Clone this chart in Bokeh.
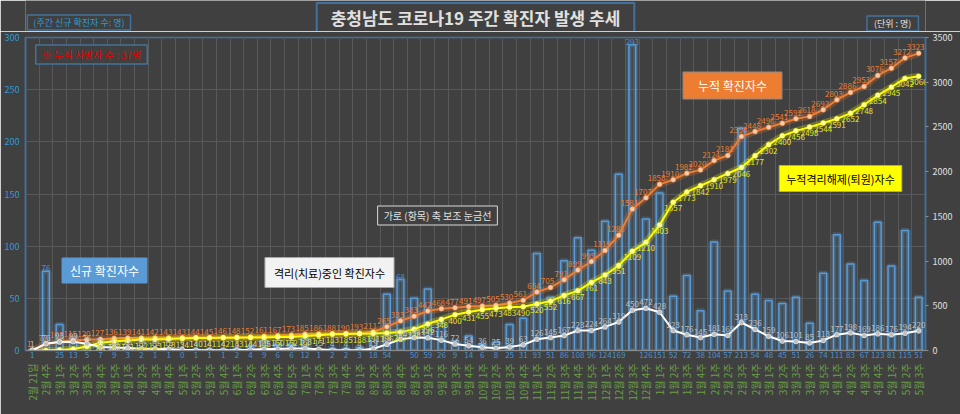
import math
from bokeh.plotting import figure
from bokeh.layouts import column
from bokeh.models import (Range1d, LinearAxis, FixedTicker, ColumnDataSource,
                          LabelSet, Label)
from bokeh.embed import file_html
from bokeh.resources import INLINE
from bokeh.core.properties import value

FONT = "Noto Sans CJK KR"

week_labels = [
    "2월 21일", "2월 4주",
    "3월 1주", "3월 2주", "3월 3주", "3월 4주", "3월 5주",
    "4월 1주", "4월 2주", "4월 3주", "4월 4주",
    "5월 1주", "5월 2주", "5월 3주", "5월 4주",
    "6월 1주", "6월 2주", "6월 3주", "6월 4주", "6월 5주",
    "7월 1주", "7월 2주", "7월 3주", "7월 4주",
    "8월 1주", "8월 2주", "8월 3주", "8월 4주", "8월 5주",
    "9월 1주", "9월 2주", "9월 3주", "9월 4주",
    "10월 1주", "10월 2주", "10월 3주", "10월 4주",
    "11월 1주", "11월 2주", "11월 3주", "11월 4주", "11월 5주",
    "12월 1주", "12월 2주", "12월 3주", "12월 4주",
    "1월 1주", "1월 2주", "1월 3주", "1월 4주",
    "2월 1주", "2월 2주", "2월 3주", "2월 4주",
    "3월 1주", "3월 2주", "3월 3주", "3월 4주", "3월 5주",
    "4월 1주", "4월 2주", "4월 3주", "4월 4주",
    "5월 1주", "5월 2주", "5월 3주",
]

weekly_new = [1, 76, 25, 13, 5, 7, 9, 3, 2, 1,
              1, 0, 1, 1, 1, 2, 4, 9, 6, 6,
              12, 1, 2, 2, 3, 18, 54, 68, 50, 59,
              26, 9, 14, 6, 8, 25, 31, 93, 51, 86,
              108, 96, 124, 169, 293, 126, 151, 52, 72, 38,
              104, 57, 213, 54, 48, 45, 51, 26, 74, 111,
              83, 67, 123, 81, 115, 51]

cumulative = [1, 77, 102, 115, 120, 127, 136, 139, 141, 142,
              143, 143, 144, 145, 146, 148, 152, 161, 167, 173,
              185, 186, 188, 190, 193, 211, 265, 333, 383, 442,
              468, 477, 491, 497, 505, 530, 561, 654, 705, 791,
              899, 995, 1119, 1288, 1581, 1707, 1858, 1910, 1982, 2020,
              2124, 2181, 2394, 2448, 2496, 2541, 2592, 2618, 2692, 2803,
              2886, 2953, 3076, 3157, 3272, 3323]

released = [0, 1, 7, 16, 44, 88, 103, 111, 122, 123,
            128, 134, 140, 141, 142, 143, 144, 145, 150, 152,
            163, 171, 183, 185, 188, 191, 196, 207, 238, 296,
            348, 400, 431, 455, 473, 483, 490, 520, 552, 616,
            667, 761, 843, 951, 1109, 1210, 1403, 1657, 1773, 1842,
            1910, 1979, 2046, 2177, 2302, 2400, 2456, 2498, 2544, 2591,
            2652, 2748, 2854, 2945, 3042, 3066]

in_treatment = [1, 76, 95, 99, 76, 39, 33, 28, 19, 19,
                15, 9, 4, 4, 4, 5, 8, 16, 17, 21,
                22, 15, 4, 4, 4, 19, 68, 125, 144, 142,
                116, 72, 54, 36, 25, 39, 63, 126, 145, 167,
                223, 224, 264, 319, 450, 472, 428, 223, 176, 145,
                181, 169, 313, 236, 159, 106, 101, 85, 113, 177,
                198, 169, 186, 176, 194, 220]

left_ticks = [0, 50, 100, 150, 200, 250, 300]
right_ticks = [0, 500, 1000, 1500, 2000, 2500, 3000, 3500]
deaths_total = 37

n = len(week_labels)
xs = list(range(n))

BG = "#404040"
GRID = "#595959"
FRAME = "#41719c"
HEAD_H = 31

# ---------------- header strip (title and unit boxes) ----------------
h = figure(width=960, height=HEAD_H, x_range=Range1d(0, 960),
           y_range=Range1d(HEAD_H, 0), output_backend="svg",
           toolbar_location=None, background_fill_color=BG,
           border_fill_color=BG, min_border=0, outline_line_color=None)
h.axis.visible = False
h.grid.visible = False


def hbox(x, y, text, size, color, pad, bold=False, bw=1.5):
    # pad = (left, right, top, bottom)
    h.add_layout(Label(x=x, y=y, text=text, text_align="center",
                       text_baseline="middle", text_font=FONT,
                       text_font_size=size, text_color=color,
                       text_font_style="bold" if bold else "normal",
                       background_fill_color=BG, border_line_color=FRAME,
                       border_line_width=bw, padding=pad))


hbox(480, 17, "충청남도 코로나19 주간 확진자 발생 추세", "17px", "#e0e0e0",
     (14, 14, 2, 2), bold=True, bw=2)
hbox(57, 22, "(주간 신규 확진자 수: 명)", "9px", "#2e9bd7", (6, 6, 1, 1))
hbox(925, 23, "(단위 : 명)", "9px", "#e0e0e0", (7, 7, 1, 1))

# ---------------- main chart ----------------
p = figure(width=960, height=414 - HEAD_H,
           x_range=Range1d(-0.5, n - 0.5), y_range=Range1d(0, 300),
           output_backend="svg", toolbar_location=None,
           background_fill_color=BG, border_fill_color=BG,
           min_border_left=25, min_border_right=35,
           min_border_top=37 - HEAD_H, min_border_bottom=64)
p.extra_y_ranges = {"right": Range1d(0, 3500)}
p.outline_line_color = FRAME
p.outline_line_width = 1.5

# left axis
ya = p.yaxis[0]
ya.ticker = FixedTicker(ticks=left_ticks)
ya.major_label_text_color = "#2e9bd7"
ya.major_label_text_font = FONT
ya.major_label_text_font_size = "9px"
ya.major_label_standoff = 6
ya.major_tick_out = 0
ya.major_tick_in = 0
ya.minor_tick_out = 0
ya.minor_tick_in = 0
ya.axis_line_color = FRAME
ya.axis_line_width = 1.5

# bottom axis 1: weekly values under each bar
top_idx = [1, 27, 44]
xa = p.xaxis[0]
xa.ticker = FixedTicker(ticks=xs)
xa.major_label_overrides = {i: ("" if i in top_idx else str(v))
                            for i, v in enumerate(weekly_new)}
xa.major_label_standoff = 1
xa.major_label_text_color = "#4A90D0"
xa.major_label_text_font = FONT
xa.major_label_text_font_size = "8px"
xa.major_tick_out = 0
xa.major_tick_in = 0
xa.minor_tick_out = 0
xa.minor_tick_in = 0
xa.axis_line_color = "#8c8c8c"

# bottom axis 2: week labels
wa = LinearAxis(ticker=FixedTicker(ticks=xs))
wa.major_label_overrides = {i: lab for i, lab in enumerate(week_labels)}
wa.major_label_orientation = math.pi / 2
wa.major_label_standoff = 3
wa.major_label_text_color = "#6A9E45"
wa.major_label_text_font = FONT
wa.major_label_text_font_size = "10px"
wa.major_tick_out = 0
wa.major_tick_in = 0
wa.minor_tick_out = 0
wa.minor_tick_in = 0
wa.axis_line_color = None
p.add_layout(wa, "below")

# right axis
ra = LinearAxis(y_range_name="right", ticker=FixedTicker(ticks=right_ticks))
ra.major_label_text_color = "#e0e0e0"
ra.major_label_text_font = FONT
ra.major_label_text_font_size = "9px"
ra.major_label_standoff = 4
ra.major_tick_out = 3
ra.major_tick_in = 0
ra.major_tick_line_color = "#8c8c8c"
ra.minor_tick_out = 0
ra.minor_tick_in = 0
ra.axis_line_color = FRAME
ra.axis_line_width = 1.5
p.add_layout(ra, "right")

# grids
p.ygrid.ticker = FixedTicker(ticks=left_ticks)
p.ygrid.grid_line_color = GRID
p.xgrid.ticker = FixedTicker(ticks=[i - 0.5 for i in range(n + 1)])
p.xgrid.grid_line_color = GRID
p.xgrid.grid_line_width = 1

src = ColumnDataSource(dict(
    x=xs, week=week_labels, new=weekly_new, cum=cumulative, rel=released,
    cur=in_treatment,
    cum_t=[str(v) for v in cumulative],
    rel_t=[str(v) for v in released], cur_t=[str(v) for v in in_treatment],
))

# bars (weekly new cases) with glow
p.vbar(x="x", top="new", width=0.5, source=src, fill_alpha=0,
       line_color="#5B9BD5", line_alpha=0.25, line_width=5)
p.vbar(x="x", top="new", width=0.5, source=src, fill_color="#5B9BD5",
       fill_alpha=0.12, line_color="#5B9BD5", line_width=1.5)

# cumulative cases (orange)
p.line("x", "cum", source=src, y_range_name="right", line_color="#ED7D31",
       line_width=7, line_alpha=0.25)
p.line("x", "cum", source=src, y_range_name="right", line_color="#ED7D31",
       line_width=2)
p.scatter("x", "cum", source=src, y_range_name="right", size=5,
          fill_color="#F8CBAD", line_color="#ED7D31", line_width=0.5)

# cumulative released (yellow)
p.line("x", "rel", source=src, y_range_name="right", line_color="#FFFF00",
       line_width=7, line_alpha=0.25)
p.line("x", "rel", source=src, y_range_name="right", line_color="#FFFF00",
       line_width=2)
p.scatter("x", "rel", source=src, y_range_name="right", size=5,
          fill_color="#FFFF99", line_color="#FFFF00", line_width=0.5)

# in treatment (white)
p.line("x", "cur", source=src, y_range_name="right", line_color="#ffffff",
       line_width=2)
p.scatter("x", "cur", source=src, y_range_name="right", size=5,
          fill_color="#bfbfbf", line_color="#ffffff", line_width=0.5)

lbl_font = value(FONT)
p.add_layout(LabelSet(x="x", y="cum", text="cum_t", source=src,
                      y_range_name="right", text_align="center",
                      text_baseline="bottom", y_offset=3, x_offset=-3,
                      text_font=lbl_font, text_font_size="8px",
                      text_color="#ED7D31"))
p.add_layout(LabelSet(x="x", y="rel", text="rel_t", source=src,
                      y_range_name="right", text_align="center",
                      text_baseline="top", y_offset=-3,
                      text_font=lbl_font, text_font_size="8px",
                      text_color="#E6E61A"))
p.add_layout(LabelSet(x="x", y="cur", text="cur_t", source=src,
                      y_range_name="right", text_align="center",
                      text_baseline="bottom", y_offset=3,
                      text_font=lbl_font, text_font_size="8px",
                      text_color="#BFBFBF"))

# labels on top of the tallest bars
src_top = ColumnDataSource(dict(x=top_idx, y=[weekly_new[i] for i in top_idx],
                                t=[str(weekly_new[i]) for i in top_idx]))
p.add_layout(LabelSet(x="x", y="y", text="t", source=src_top,
                      text_align="center", text_baseline="bottom", y_offset=0,
                      text_font=lbl_font, text_font_size="8px",
                      text_color="#4A90D0"))


# text boxes inside the chart (image pixel positions -> data units)
def fx(px):
    return (px - 25) / 900 * n - 0.5


def fy(py):
    return (350 - py) / 313 * 300


def box(px, py, text, size, color, fill, border, pad, bw=1.5):
    # pad = (left, right, top, bottom)
    p.add_layout(Label(x=fx(px), y=fy(py), text=text, text_align="center",
                       text_baseline="middle", text_font=FONT,
                       text_font_size=size, text_color=color,
                       background_fill_color=fill, border_line_color=border,
                       border_line_width=bw, padding=pad))


box(91, 54, "※ 누적 사망자 수 : %d명" % deaths_total, "10px", "#e00000", BG, FRAME,
    (6, 6, 2, 2))
box(732, 85, "누적 확진자수", "12px", "#ffffff", "#ED7D31", "#8c8c8c",
    (15, 15, 5, 5), bw=1)
box(104, 270, "신규 확진자수", "12px", "#ffffff", "#5B9BD5", "#5B9BD5",
    (8, 8, 4, 4), bw=1)
box(329, 272, "격리(치료)중인 확진자수", "11px", "#000000", "#f2f2f2", "#a6a6a6",
    (9, 9, 7, 7), bw=1)
box(840, 178, "누적격리해제(퇴원)자수", "11px", "#000000", "#FFFF00", "#a6a6a6",
    (7, 7, 5, 5), bw=1)
box(437, 215, "가로 (항목) 축 보조 눈금선", "10px", "#e0e0e0", BG, "#d9d9d9",
    (6, 6, 2, 2), bw=1)

layout = column(h, p, spacing=0)
open("out.html", "w").write(file_html(layout, INLINE))
